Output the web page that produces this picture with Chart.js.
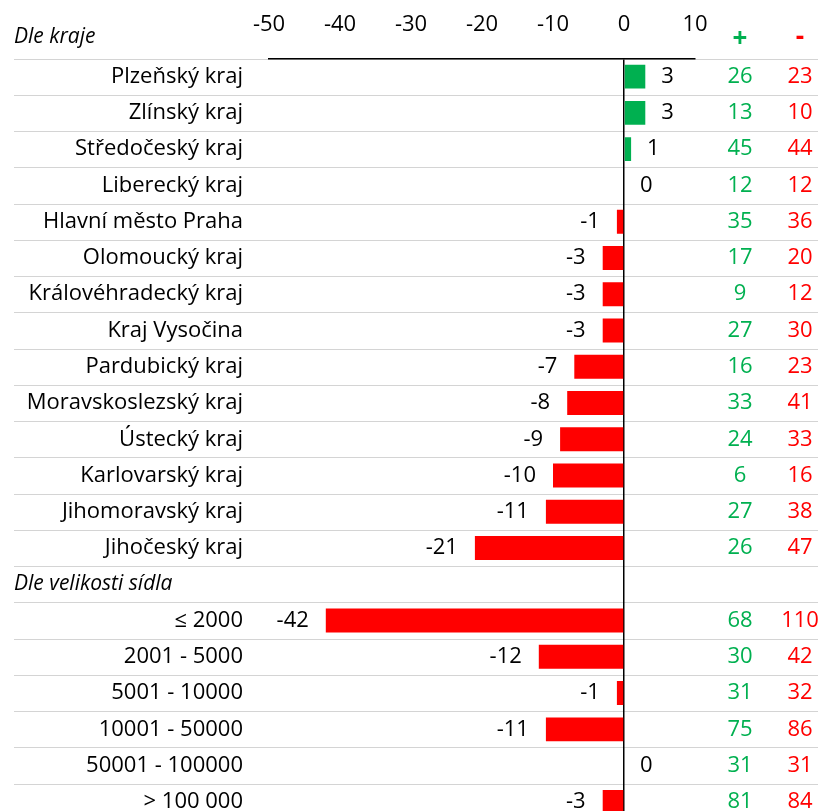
<!DOCTYPE html>
<html>
<head>
<meta charset="utf-8">
<script src="https://cdn.jsdelivr.net/npm/chart.js@4.4.1/dist/chart.umd.min.js"></script>
<style>
  html, body { margin: 0; padding: 0; background: #fff; overflow: hidden; }
  #obal { width: 818px; height: 820px; position: relative; }
</style>
</head>
<body>
<div id="obal"><canvas id="graf"></canvas></div>
<script>
// data kraje
const kraje = ["Plzeňský kraj", "Zlínský kraj", "Středočeský kraj", "Liberecký kraj", "Hlavní město Praha",
  "Olomoucký kraj", "Královéhradecký kraj", "Kraj Vysočina", "Pardubický kraj", "Moravskoslezský kraj",
  "Ústecký kraj", "Karlovarský kraj", "Jihomoravský kraj", "Jihočeský kraj"];
const krajeSaldo = [3, 3, 1, 0, -1, -3, -3, -3, -7, -8, -9, -10, -11, -21];
const krajePlus = [26, 13, 45, 12, 35, 17, 9, 27, 16, 33, 24, 6, 27, 26];
const krajeMinus = [23, 10, 44, 12, 36, 20, 12, 30, 23, 41, 33, 16, 38, 47];

// data velikost sidla
const sidla = ["≤ 2000", "2001 - 5000", "5001 - 10000", "10001 - 50000", "50001 - 100000", "> 100 000"];
const sidlaSaldo = [-42, -12, -1, -11, 0, -3];
const sidlaPlus = [68, 30, 31, 75, 31, 81];
const sidlaMinus = [110, 42, 32, 86, 31, 84];

const nadpisKraje = "Dle kraje";
const nadpisSidla = "Dle velikosti sídla";
const osaMin = -50, osaMax = 10, osaKrok = 10;

const zelena = "#00B050";
const cervena = "#FF0000";
const pismo = "'Open Sans'";
const velikost = 22;

// radky grafu (radek s nadpisem je prazdny)
const kategorie = [...kraje, nadpisSidla, ...sidla];
const saldo = [...krajeSaldo, null, ...sidlaSaldo];
const plus = [...krajePlus, null, ...sidlaPlus];
const minus = [...krajeMinus, null, ...sidlaMinus];
const nadpisIndex = kraje.length;

const popisky = {
  id: "popisky",
  beforeDraw(chart) {
    // sede vodorovne cary mezi radky
    const ctx = chart.ctx;
    const y = chart.scales.y;
    const area = chart.chartArea;
    const radek = (area.bottom - area.top) / kategorie.length;
    ctx.save();
    ctx.strokeStyle = "#d4d4d4";
    ctx.lineWidth = 1;
    for (let i = 0; i < kategorie.length; i++) {
      const yy = Math.round(y.getPixelForValue(i) - radek / 2) + 0.5;
      ctx.beginPath();
      ctx.moveTo(14, yy);
      ctx.lineTo(chart.width, yy);
      ctx.stroke();
    }
    ctx.restore();
  },
  afterDatasetsDraw(chart) {
    const ctx = chart.ctx;
    const y = chart.scales.y;
    const meta = chart.getDatasetMeta(0);
    const normal = velikost + "px " + pismo;
    const kurziva = "italic 21px " + pismo;
    ctx.save();
    ctx.textBaseline = "middle";
    ctx.font = normal;

    kategorie.forEach((k, i) => {
      const yy = y.getPixelForValue(i);
      if (i === nadpisIndex) {
        ctx.font = kurziva;
        ctx.fillStyle = "#000";
        ctx.textAlign = "left";
        ctx.fillText(k, 14, yy);
        ctx.font = normal;
        return;
      }
      const v = saldo[i];
      const konec = meta.data[i].x;
      ctx.fillStyle = "#000";
      if (v < 0) {
        ctx.textAlign = "right";
        ctx.fillText(String(v), konec - 17, yy);
      } else {
        ctx.textAlign = "left";
        ctx.fillText(String(v), konec + 16, yy);
      }
      ctx.textAlign = "center";
      ctx.fillStyle = zelena;
      ctx.fillText(String(plus[i]), 740, yy);
      ctx.fillStyle = cervena;
      ctx.fillText(String(minus[i]), 800, yy);
    });

    // hlavicka
    ctx.textAlign = "left";
    ctx.fillStyle = "#000";
    ctx.font = kurziva;
    ctx.fillText(nadpisKraje, 14, 37);
    ctx.textAlign = "center";
    ctx.font = "bold 26px " + pismo;
    ctx.fillStyle = zelena;
    ctx.fillText("+", 740, 40);
    ctx.fillStyle = cervena;
    ctx.fillText("-", 800, 38);
    ctx.restore();
  }
};

new Chart(document.getElementById("graf"), {
  type: "bar",
  data: {
    labels: kategorie,
    datasets: [{
      data: saldo,
      backgroundColor: saldo.map(v => (v >= 0 ? zelena : cervena)),
      borderWidth: 0,
      barPercentage: 0.66,
      categoryPercentage: 1
    }]
  },
  options: {
    indexAxis: "y",
    responsive: true,
    maintainAspectRatio: false,
    animation: false,
    layout: { padding: { top: 0, left: 0, right: 123, bottom: 0 } },
    plugins: { legend: { display: false }, tooltip: { enabled: false } },
    scales: {
      x: {
        position: "top",
        min: osaMin,
        max: osaMax,
        afterFit: (s) => { s.height = 58.5; },
        ticks: { stepSize: osaKrok, color: "#000", font: { family: pismo, size: velikost }, padding: 21 },
        grid: {
          drawTicks: false,
          color: (c) => (c.tick && c.tick.value === 0 ? "#000" : "rgba(0,0,0,0)"),
          lineWidth: 1.5
        },
        border: { display: true, color: "#000", width: 1.5 }
      },
      y: {
        afterFit: (s) => {
          s.width = 269;
          s.paddingTop = 0;
          s.paddingBottom = 0;
        },
        ticks: {
          color: "#000",
          font: { family: pismo, size: velikost },
          padding: 26,
          callback: (v, i) => (i === nadpisIndex ? "" : kategorie[i])
        },
        grid: { display: false, drawTicks: false },
        border: { display: false }
      }
    }
  },
  plugins: [popisky]
});
</script>
</body>
</html>
